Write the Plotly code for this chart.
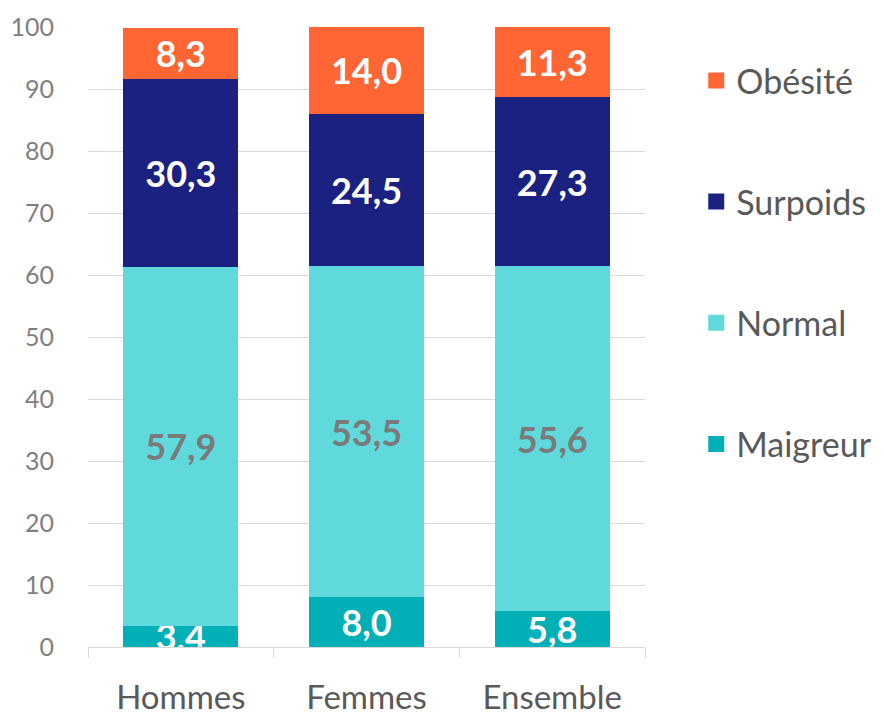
import plotly.graph_objects as go

categories = ["Hommes", "Femmes", "Ensemble"]
maigreur = [3.4, 8.0, 5.8]
normal = [57.9, 53.5, 55.6]
surpoids = [30.3, 24.5, 27.3]
obesite = [8.3, 14.0, 11.3]
y_ticks = [0, 10, 20, 30, 40, 50, 60, 70, 80, 90, 100]

FONT = "Lato, 'Open Sans', sans-serif"

series = [
    ("Maigreur", maigreur, "#00B0B6", "white"),
    ("Normal", normal, "#60D9DD", "#7A7A7A"),
    ("Surpoids", surpoids, "#1A2181", "white"),
    ("Obésité", obesite, "#FF6633", "white"),
]

def fmt(v):
    return f"{v:.1f}".replace(".", ",")

fig = go.Figure()
for name, vals, color, tcolor in series:
    fig.add_trace(go.Bar(
        x=categories, y=vals, name=name, marker_color=color,
        marker_line_width=0,
        text=[fmt(v) for v in vals], textposition="inside",
        insidetextanchor="middle", constraintext="none",
        textangle=0,
        textfont=dict(family=FONT, size=36, color=tcolor, weight="bold"),
        showlegend=False, cliponaxis=True,
    ))

# legend entries (top to bottom: Obésité, Surpoids, Normal, Maigreur)
for i, (name, vals, color, tcolor) in enumerate(reversed(series)):
    fig.add_trace(go.Scatter(
        x=[None], y=[None], mode="markers", name=name,
        marker=dict(symbol="square", size=20, color=color),
        legendgroup=name, legendrank=i + 1, showlegend=True,
    ))

fig.update_layout(
    width=876, height=708,
    barmode="stack", bargap=0.38,
    plot_bgcolor="white", paper_bgcolor="white",
    margin=dict(l=80, r=239, t=19, b=69, autoexpand=False),
    font=dict(family=FONT, color="#595959"),
    legend=dict(
        x=1.092, y=0.96, xanchor="left", yanchor="top",
        font=dict(family=FONT, size=34, color="#595959"),
        tracegroupgap=74, itemwidth=30, traceorder="grouped",
        bgcolor="rgba(0,0,0,0)",
    ),
    showlegend=True,
)
fig.update_yaxes(
    range=[0, 100], tickvals=y_ticks, showgrid=True, gridcolor="#D9D9D9",
    gridwidth=1, zeroline=False, showline=False, automargin=False,
    tickfont=dict(family=FONT, size=25, color="#7F7F7F"),
    ticklabelstandoff=33,
)
fig.update_xaxes(
    showline=True, linecolor="#D9D9D9", linewidth=1, automargin=False,
    ticks="outside", tickson="boundaries", ticklen=10, tickcolor="#D9D9D9",
    tickfont=dict(family=FONT, size=33, color="#595959"),
    ticklabelstandoff=21,
)

fig.write_html("out.html")
